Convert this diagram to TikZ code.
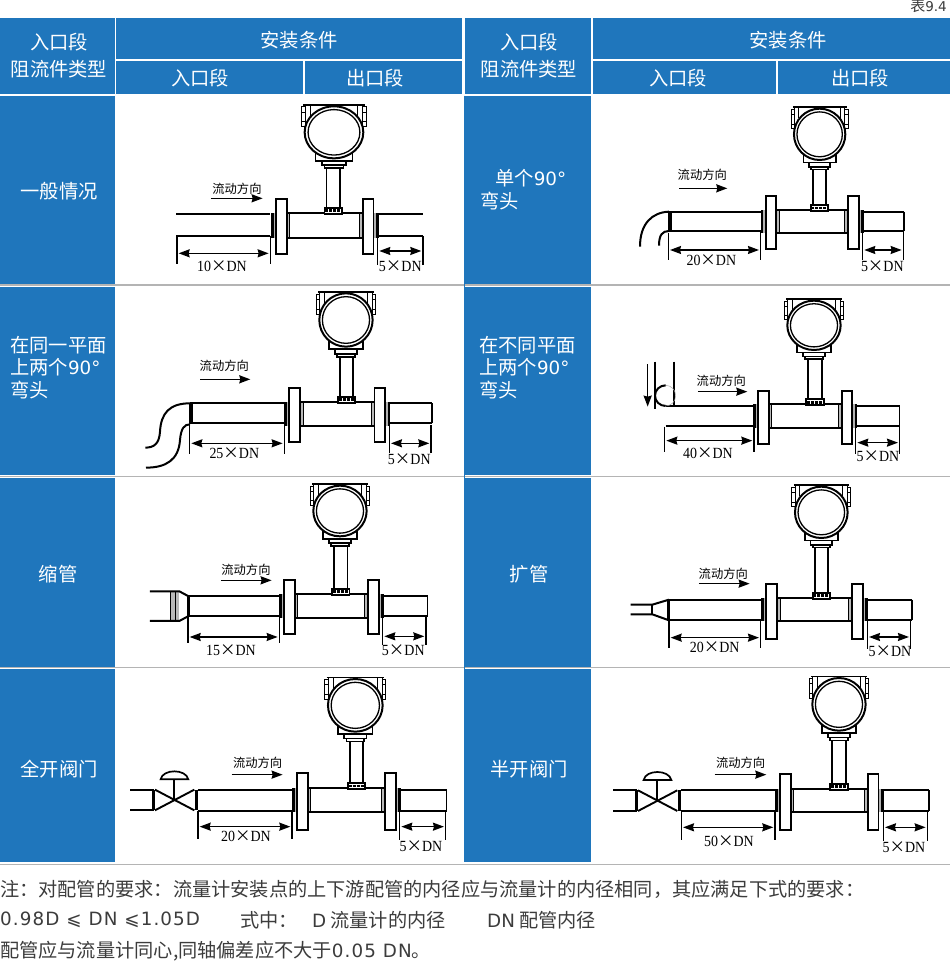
\documentclass[tikz,border=0pt]{standalone}
\usepackage{fontspec}
\setmainfont{Noto Sans CJK SC}
\newfontfamily\lsf[FakeStretch=.9]{Liberation Serif}
\newfontfamily\dvs{DejaVu Sans}
\newfontfamily\dvsw[LetterSpace=6]{DejaVu Sans}
\usetikzlibrary{arrows.meta}
\definecolor{tblue}{HTML}{1F76BC}
\definecolor{notegrey}{HTML}{3C3C3C}
\definecolor{rulegrey}{HTML}{B4B4B4}
\tikzset{
  hd/.style={text=white,inner sep=0pt,font=\fontsize{19.3}{20}\selectfont},
  rowt/.style={hd,anchor=west},
  note/.style={text=notegrey,inner sep=0pt,anchor=west,font=\fontsize{19.2}{20}\selectfont},
  pw/.style={line width=1.7pt},
  thinw/.style={line width=1pt},
  dimw/.style={line width=1.5pt},
  flowt/.style={inner sep=0pt,font=\fontsize{12.3}{13}\selectfont},
  dimt/.style={inner sep=0pt,font=\fontsize{15.5}{16}\lsf},
  >={Stealth[length=11pt,width=8pt,inset=1pt]},
}
\newcommand\la[1]{{\dvs\fontsize{18.3}{20}\selectfont #1}}
\newcommand\lb[1]{{\dvsw\fontsize{18.3}{20}\selectfont #1}}
\newcommand\dtext[1]{#1{\fontspec{Noto Sans CJK SC}×}DN}
% flange meter body: FL FR T B flT flB stemX
\newcommand\meterbody[7]{
  \fill[gray!55] (#1+32,#3) rectangle (#1+42,#4);
  \fill[gray!55] (#2-10,#3) rectangle (#2,#4);
  \draw[thinw] (#1+42,#3) -- (#1+42,#4);
  \draw[thinw] (#2-10,#3) -- (#2-10,#4);
  \draw[pw] (#1+32,#3) -- (#2,#3);
  \draw[pw] (#1+32,#4) -- (#2,#4);
  \fill[gray!60] (#1-7,#3) rectangle (#1,#4);
  \fill[black] (#1-15,#3) rectangle (#1-7,#4);
  \fill[gray!60] (#2+32,#3) rectangle (#2+39,#4);
  \fill[black] (#2+39,#3) rectangle (#2+47,#4);
  \draw[pw,fill=white] (#1,#5) rectangle (#1+32,#6);
  \draw[pw,fill=white] (#2,#5) rectangle (#2+32,#6);
  \draw[pw,fill=white] (#7-26,#3-15) rectangle (#7+26,#3+3);
  \draw[line width=2.4pt,dash pattern=on 3pt off 1pt] (#7-24,#3-6) -- (#7+24,#3-6);
}
% transmitter head: cx cy rx ry stemX T
\newcommand\meterhead[6]{
  \draw[pw] (#5-20,{#2+110*#4/80}) -- (#5-20,#6-15);
  \draw[pw] (#5+20,{#2+110*#4/80}) -- (#5+20,#6-15);
  \begin{scope}[shift={(#1,#2)},xscale=#3/86,yscale=#4/80]
    \draw[thinw,fill=white] (-96,-78) rectangle (-84,-18);
    \draw[thinw,fill=white] (96,-78) rectangle (84,-18);
    \draw[thinw] (-96,-62) -- (-84,-62) (-96,-32) -- (-84,-32) (96,-62) -- (84,-62) (96,-32) -- (84,-32);
    \draw[pw] (-90,-85) -- (90,-85);
    \draw[thinw] (-84,-85) -- (-84,-10) (84,-85) -- (84,-10) (-70,-85) -- (-70,-50) (70,-85) -- (70,-50);
    \draw[pw] (-54,58) -- (-54,88) -- (54,88) -- (54,58);
    \draw[pw,fill=white] (-35,88) rectangle (35,101);
    \draw[pw,fill=white] (-28,101) rectangle (28,110);
    \draw[line width=2pt,fill=white] (0,0) circle[x radius=86,y radius=80];
    \draw[line width=1.3pt] (0,0) circle[x radius=76,y radius=70];
  \end{scope}
}
% straight runs: upL upR upT upB outL outR
\newcommand\runs[6]{
  \draw[pw] (#1,#3) -- (#2,#3);
  \draw[pw] (#1,#4) -- (#2,#4);
  \draw[pw] (#5,#3) -- (#6,#3);
  \draw[pw] (#5,#4) -- (#6,#4);
}
% dimension: id x1 x2 topL topR bottom arrowY
\newcommand\dimension[7]{
  \coordinate (#1a) at (#2,#4);
  \coordinate (#1b) at (#2,#6);
  \coordinate (#1c) at (#3,#5);
  \coordinate (#1d) at (#3,#6);
  \coordinate (#1e) at (#2+5,#7);
  \coordinate (#1f) at (#3-5,#7);
  \draw[dimw] (#1a) -- (#1b);
  \draw[dimw] (#1c) -- (#1d);
  \draw[dimw,<->] (#1e) -- (#1f);
}
% flow label: id textx texty x1 x2 y
\newcommand\flow[6]{
  \node[flowt] (#1t) at (#2,#3) {流动方向};
  \coordinate (#1a) at (#4,#6);
  \coordinate (#1b) at (#5,#6);
  \draw[line width=1.6pt,->] (#1a) -- (#1b);
}
\newcommand\valve[3]{% x of left end, x centre, y ref
  \draw[pw] (#1,#3+3) -- (#2-60,#3+3);
  \draw[pw] (#1,#3+65) -- (#2-60,#3+65);
  \fill (#2-66,#3+3) rectangle (#2-59,#3+65);
  \draw[line width=1.9pt] (#2-58,#3+3) -- (#2+60,#3+65);
  \draw[line width=1.9pt] (#2-58,#3+65) -- (#2+60,#3+3);
  \draw[pw] (#2,#3+34) -- (#2,#3-28);
  \draw[pw,fill=white] (#2-41,#3-28) .. controls (#2-35,#3-60) and (#2+35,#3-60) .. (#2+42,#3-28) -- cycle;
  \fill (#2+62,#3+3) rectangle (#2+72,#3+65);
}
\begin{document}
\begin{tikzpicture}[x=1pt,y=-1pt,line cap=butt]
\useasboundingbox (0,0) rectangle (950,974);
\fill[white] (0,0) rectangle (950,974);
% rules
\foreach \yy in {285,476.5,667.5,864.5} \draw[rulegrey,line width=1.1pt] (0,\yy) -- (950,\yy);
% header cells
\fill[tblue] (0,18.5) rectangle (114.5,93.5);
\fill[tblue] (116.4,18.5) rectangle (462.4,59);
\fill[tblue] (116.4,61) rectangle (303,93.5);
\fill[tblue] (304.8,61) rectangle (462.4,93.5);
\fill[tblue] (464.8,18.5) rectangle (591,93.5);
\fill[tblue] (593.3,18.5) rectangle (950,59);
\fill[tblue] (593.3,61) rectangle (775.8,93.5);
\fill[tblue] (777.5,61) rectangle (950,93.5);
% left columns
\foreach \ya/\yb in {95.5/284,286.5/475,478/666.5,669/862} {
  \fill[tblue] (0,\ya) rectangle (114.5,\yb);
  \fill[tblue] (464.8,\ya) rectangle (591,\yb);
}
\draw[tblue,line width=.6pt] (464.5,95.5) -- (464.5,862);
\node[text=notegrey,inner sep=0pt,anchor=east,font=\fontsize{15}{16}\selectfont] (tabno) at (947,6) {表{\dvs\fontsize{13.5}{14}\selectfont 9.4}};
\node[hd] (h1) at (59,42.5) {入口段};
\node[hd] (h2) at (59,69) {阻流件类型};
\node[hd] (h3) at (299,40.5) {安装条件};
\node[hd] (h4) at (200,78.5) {入口段};
\node[hd] (h5) at (375,78.5) {出口段};
\node[hd] (h6) at (529,42.5) {入口段};
\node[hd] (h7) at (529,69) {阻流件类型};
\node[hd] (h8) at (788,40.5) {安装条件};
\node[hd] (h9) at (678,78.5) {入口段};
\node[hd] (h10) at (860,78.5) {出口段};
\node[hd] (r1) at (59,191) {一般情况};
\node[rowt] (r2a) at (495,178) {单个\la{90°}};
\node[rowt] (r2b) at (480,201) {弯头};
\node[rowt] (r3a) at (10,345) {在同一平面};
\node[rowt] (r3b) at (10,367) {上两个\la{90°}};
\node[rowt] (r3c) at (10,390) {弯头};
\node[rowt] (r4a) at (479,345) {在不同平面};
\node[rowt] (r4b) at (479,367) {上两个\la{90°}};
\node[rowt] (r4c) at (479,390) {弯头};
\node[hd] (r5) at (58,574) {缩管};
\node[hd] (r6) at (529,574) {扩管};
\node[hd] (r7) at (59,769) {全开阀门};
\node[hd] (r8) at (529,769) {半开阀门};
% notes
\node[note] (n1) at (0,889) {注：对配管的要求：流量计安装点的上下游配管的内径应与流量计的内径相同，其应满足下式的要求：};
\node[note] (n2) at (0,920) {\lb{0.98D ⩽ DN ⩽1.05D}};
\node[note] (n3) at (240,920) {式中：};
\node[note] (n4) at (312,920) {\la{D} 流量计的内径};
\node[note] (n5) at (487,920) {\la{DN} 配管内径};
\node[note] (n6) at (0,951) {配管应与流量计同心,同轴偏差应不大于\lb{0.05 DN}。};
% panel 1
\begin{scope}[shift={(116,95)},x=.3333pt,y=-.3333pt]
  \runs{181}{462}{358}{423}{790}{922}
  \meterbody{480}{741}{353}{428}{312}{478}{652}
  \meterhead{654}{112}{88}{78}{652}{353}
  \flow{f1}{363}{280}{285}{440}{310}
  \dimension{da1}{183}{463}{423}{423}{508}{475}
  \dimension{db1}{785}{921}{423}{423}{510}{468}
  \node[dimt] (t1a) at (318,513) {\dtext{10}};
  \node[dimt] (t1b) at (853,515) {\dtext{5}};
\end{scope}
% panel 2
\begin{scope}[shift={(594,95)},x=.3333pt,y=-.3333pt]
  \runs{225}{500}{350}{408}{803}{930}
  \draw[pw] (930,350) -- (930,408);
  \fill (222,350) rectangle (233,408);
  \draw[line width=2pt] (225,350) .. controls (175,352) and (138,385) .. (138,455);
  \draw[line width=2pt] (225,408) .. controls (205,408) and (195,420) .. (195,452);
  \meterbody{515}{762}{345}{415}{303}{463}{676}
  \meterhead{677}{118}{77}{77}{676}{345}
  \flow{f2}{325}{240}{255}{400}{280}
  \dimension{da2}{223}{500}{415}{410}{495}{465}
  \dimension{db2}{806}{928}{410}{410}{495}{465}
  \node[dimt] (t2a) at (352,495) {\dtext{20}};
  \node[dimt] (t2b) at (865,513) {\dtext{5}};
\end{scope}
% panel 3
\begin{scope}[shift={(116,285)},x=.3333pt,y=-.3333pt]
  \runs{222}{505}{355}{415}{820}{948}
  \draw[pw] (948,355) -- (948,415);
  \fill (218,355) rectangle (232,418);
  \draw[line width=2pt] (222,355) .. controls (160,355) and (135,385) .. (132,440) .. controls (130,475) and (115,488) .. (88,488);
  \draw[line width=2pt] (222,418) .. controls (205,418) and (195,430) .. (192,465) .. controls (188,525) and (150,548) .. (90,548);
  \meterbody{520}{776}{350}{423}{308}{472}{692}
  \meterhead{690}{105}{80}{80}{692}{350}
  \flow{f3}{325}{243}{253}{403}{283}
  \dimension{da3}{221}{505}{418}{415}{508}{475}
  \dimension{db3}{820}{945}{415}{420}{503}{475}
  \node[dimt] (t3a) at (355,505) {\dtext{25}};
  \node[dimt] (t3b) at (880,522) {\dtext{5}};
\end{scope}
% panel 4
\begin{scope}[shift={(594,285)},x=.3333pt,y=-.3333pt]
  \runs{215}{485}{363}{423}{780}{917}
  \draw[pw] (917,363) -- (917,423);
  \draw[pw] (183,230) -- (183,372);
  \draw[pw] (241,230) -- (241,363);
  \draw[line width=2pt] (215,363) arc[start angle=90,end angle=270,x radius=32,y radius=31];
  \draw[gray!70,line width=.5pt] (215,363) arc[start angle=90,end angle=-90,x radius=30,y radius=31];
  \coordinate (f4v1) at (161,238);
  \coordinate (f4v2) at (161,365);
  \draw[line width=1.6pt,->] (f4v1) -- (f4v2);
  \meterbody{492}{743}{358}{428}{318}{476}{663}
  \meterhead{660}{121}{80}{74}{663}{358}
  \flow{f4}{382}{288}{312}{460}{320}
  \dimension{da4}{212}{480}{425}{420}{502}{467}
  \dimension{db4}{785}{917}{425}{420}{507}{473}
  \node[dimt] (t4a) at (342,505) {\dtext{40}};
  \node[dimt] (t4b) at (852,513) {\dtext{5}};
\end{scope}
% panel 5
\begin{scope}[shift={(116,477)},x=.3333pt,y=-.3333pt]
  \runs{218}{490}{358}{417}{805}{935}
  \draw[pw] (935,358) -- (935,417);
  \fill[gray!55] (165,343) rectangle (190,432);
  \draw[thinw] (165,343) -- (165,432) (178,343) -- (178,432);
  \draw[line width=2pt] (102,343) -- (190,343) -- (218,358);
  \draw[line width=2pt] (102,432) -- (190,432) -- (218,417);
  \fill (213,358) rectangle (221,417);
  \meterbody{504}{757}{350}{423}{310}{472}{675}
  \meterhead{672}{102}{80}{76}{675}{350}
  \flow{f5}{390}{278}{315}{467}{310}
  \dimension{da5}{216}{490}{417}{417}{498}{480}
  \dimension{db5}{800}{930}{417}{417}{503}{478}
  \node[dimt] (t5a) at (345,520) {\dtext{15}};
  \node[dimt] (t5b) at (862,520) {\dtext{5}};
\end{scope}
% panel 6
\begin{scope}[shift={(594,477)},x=.3333pt,y=-.3333pt]
  \runs{225}{500}{368}{428}{822}{955}
  \draw[pw] (955,368) -- (955,428);
  \draw[line width=2pt] (110,383) -- (175,383) -- (225,368);
  \draw[line width=2pt] (110,412) -- (175,412) -- (225,430);
  \draw[pw] (175,383) -- (175,412);
  \fill (218,368) rectangle (228,430);
  \meterbody{517}{775}{362}{432}{320}{485}{682}
  \meterhead{682}{106}{79}{77}{682}{362}
  \flow{f6}{388}{290}{315}{467}{320}
  \dimension{da6}{225}{500}{430}{430}{512}{482}
  \dimension{db6}{820}{950}{430}{430}{516}{480}
  \node[dimt] (t6a) at (362,510) {\dtext{20}};
  \node[dimt] (t6b) at (888,522) {\dtext{5}};
\end{scope}
% panel 7
\begin{scope}[shift={(116,668)},x=.3333pt,y=-.3333pt]
  \runs{245}{530}{365}{428}{850}{992}
  \draw[pw] (992,365) -- (992,428);
  \valve{42}{175}{362}
  \meterbody{543}{808}{360}{432}{315}{485}{722}
  \meterhead{718}{112}{82}{79}{722}{360}
  \flow{f7}{425}{285}{347}{500}{320}
  \dimension{da7}{246}{528}{430}{430}{512}{476}
  \dimension{db7}{851}{989}{430}{430}{516}{476}
  \node[dimt] (t7a) at (390,505) {\dtext{20}};
  \node[dimt] (t7b) at (915,535) {\dtext{5}};
\end{scope}
% panel 8
\begin{scope}[shift={(594,668)},x=.3333pt,y=-.3333pt]
  \runs{262}{545}{367}{428}{865}{1005}
  \draw[pw] (1005,367) -- (1005,428);
  \valve{57}{190}{364}
  \meterbody{558}{822}{362}{432}{318}{487}{735}
  \meterhead{735}{109}{80}{79}{735}{362}
  \flow{f8}{440}{285}{362}{517}{320}
  \dimension{da8}{262}{543}{430}{430}{515}{478}
  \dimension{db8}{868}{1000}{430}{430}{518}{478}
  \node[dimt] (t8a) at (405,520) {\dtext{50}};
  \node[dimt] (t8b) at (930,538) {\dtext{5}};
\end{scope}
\end{tikzpicture}
\end{document}
